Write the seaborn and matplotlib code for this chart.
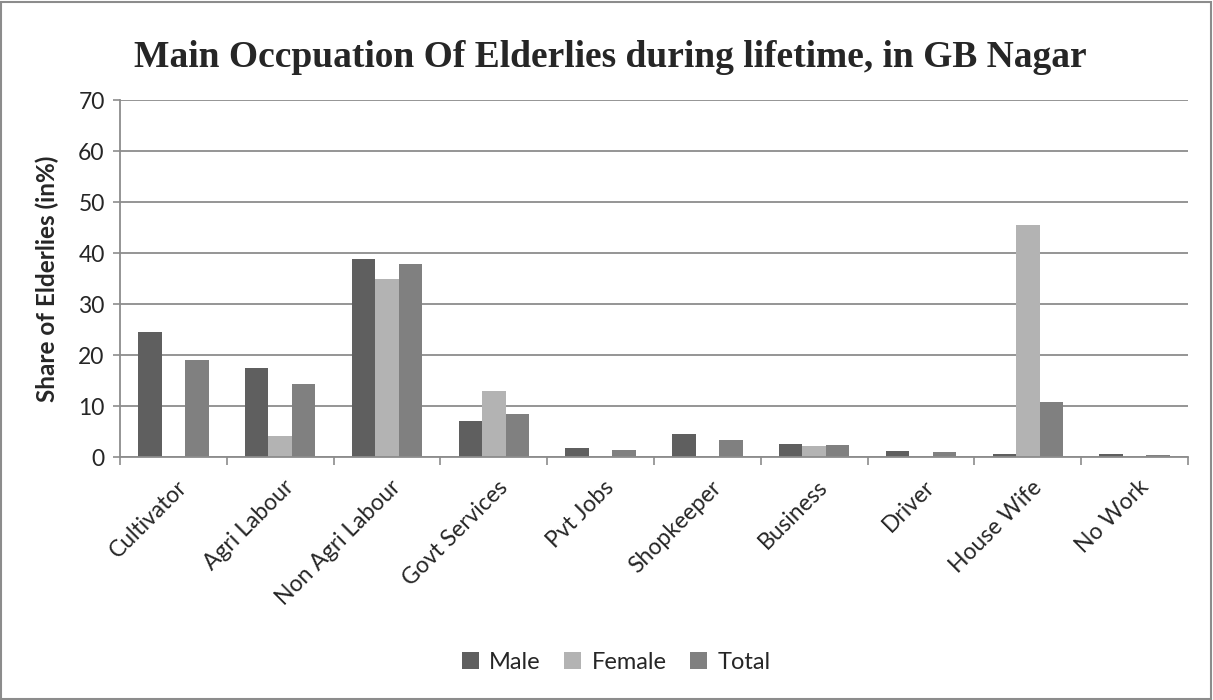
import matplotlib
matplotlib.use("Agg")
import matplotlib.pyplot as plt
import matplotlib.transforms as mtransforms
from matplotlib.patches import Rectangle
import seaborn as sns
import pandas as pd
import numpy as np

categories = ["Cultivator", "Agri Labour", "Non Agri Labour", "Govt Services", "Pvt Jobs",
              "Shopkeeper", "Business", "Driver", "House Wife", "No Work"]
male = [24.5, 17.4, 38.9, 7.0, 1.8, 4.5, 2.5, 1.2, 0.6, 0.6]
female = [0.0, 4.2, 34.9, 12.9, 0.0, 0.0, 2.1, 0.0, 45.6, 0.0]
total = [19.0, 14.4, 37.8, 8.4, 1.3, 3.4, 2.4, 1.0, 10.9, 0.5]
series = ["Male", "Female", "Total"]
colors = ["#5f5f5f", "#b3b3b3", "#808080"]

df = pd.DataFrame({
    "Occupation": categories * 3,
    "Group": [s for s in series for _ in categories],
    "Share": male + female + total,
})

sns.set_style("white")
plt.rcParams["font.family"] = ["Lato", "DejaVu Sans"]

fig = plt.figure(figsize=(12.13, 7.0), dpi=100)
ax = fig.add_axes([0.0989, 0.347, 0.8805, 0.510])

sns.barplot(data=df, x="Occupation", y="Share", hue="Group", order=categories,
            hue_order=series, palette=colors, width=0.66, ax=ax,
            edgecolor="none", legend=True)

ax.set_ylim(0, 70)
ax.set_xlim(-0.5, len(categories) - 0.5)
ax.set_yticks(np.arange(0, 71, 10))
ax.yaxis.grid(True, color="#8c8c8c", linewidth=1.3)
ax.set_axisbelow(True)

for side in ["top", "right"]:
    ax.spines[side].set_visible(False)
for side in ["left", "bottom"]:
    ax.spines[side].set_color("#8c8c8c")
    ax.spines[side].set_linewidth(1.3)

ax.tick_params(axis="y", which="major", left=True, length=5, width=1.2,
               color="#8c8c8c", labelsize=16.5, pad=6)
ax.set_xticks(np.arange(len(categories)))
ax.set_xticklabels(categories, rotation=45, ha="right", rotation_mode="anchor", fontsize=16.5)
ax.tick_params(axis="x", which="major", bottom=False, length=0, pad=14)
ax.set_xticks(np.arange(-0.5, len(categories)), minor=True)
ax.tick_params(axis="x", which="minor", bottom=True, length=6, width=1.2, color="#8c8c8c")

# nudge the rotated category labels so their upper end sits just past the centre
offset = mtransforms.ScaledTranslation(0.03, 0, fig.dpi_scale_trans)
for lbl in ax.get_xticklabels():
    lbl.set_transform(lbl.get_transform() + offset)

ax.set_xlabel("")
ax.set_ylabel("Share of Elderlies (in%)", fontsize=17.5, fontweight="bold", labelpad=14)

fig.text(0.503, 0.918, "Main Occpuation Of Elderlies during lifetime, in GB Nagar",
         ha="center", va="center", fontsize=27, fontweight="bold",
         family=["Liberation Serif", "DejaVu Serif"])

handles, labels = ax.get_legend_handles_labels()
ax.legend_.remove()
fig.legend(handles, labels, loc="center", bbox_to_anchor=(0.508, 0.054), ncol=3,
           frameon=False, fontsize=17, handlelength=0.7, handleheight=0.7,
           columnspacing=1.0, handletextpad=0.45)

fig.patches.append(Rectangle((0.001, 0.002), 0.997, 0.995, transform=fig.transFigure,
                             fill=False, edgecolor="#8c8c8c", linewidth=1.5))

fig.savefig("out.png", dpi=100)
